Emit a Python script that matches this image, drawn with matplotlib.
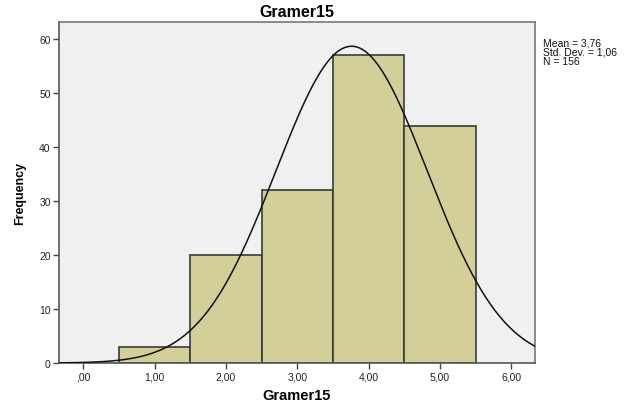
import numpy as np
import matplotlib.pyplot as plt

# Histogram of Gramer15 scores
bin_edges = [0.5, 1.5, 2.5, 3.5, 4.5, 5.5]
counts = [3, 20, 32, 57, 44]
mean, std, n = 3.76, 1.06, 156
xticks = [0, 1, 2, 3, 4, 5, 6]
xtick_labels = [',00', '1,00', '2,00', '3,00', '4,00', '5,00', '6,00']
yticks = [0, 10, 20, 30, 40, 50, 60]

plt.rcParams['font.family'] = ['Liberation Sans', 'DejaVu Sans']

fig = plt.figure(figsize=(6.34, 4.06), dpi=100)
ax = fig.add_axes([0.0931, 0.1034, 0.7507, 0.8399])
ax.set_facecolor('#f0f0f0')

# Bars
widths = np.diff(bin_edges)
ax.bar(bin_edges[:-1], counts, width=widths, align='edge',
       color='#d3cf98', edgecolor='#3a3a3a', linewidth=1.2, zorder=2)

# Normal curve scaled to the histogram
xs = np.linspace(-0.34, 6.33, 400)
bw = widths[0]
ys = n * bw / (std * np.sqrt(2 * np.pi)) * np.exp(-0.5 * ((xs - mean) / std) ** 2)
ax.plot(xs, ys, color='#111111', lw=1.1, zorder=3)

# Axes formatting
ax.set_xlim(-0.34, 6.33)
ax.set_ylim(0, 63.2)
ax.set_xticks(xticks)
ax.set_xticklabels(xtick_labels)
ax.set_yticks(yticks)
ax.tick_params(axis='both', direction='out', length=4, width=1,
               color='#444444', labelsize=7.5, labelcolor='#222222', pad=2)
for side in ['top', 'right', 'bottom', 'left']:
    ax.spines[side].set_color('#555555')
    ax.spines[side].set_linewidth(1.2)
ax.spines['top'].set_color('#777777')
ax.spines['right'].set_color('#777777')

ax.set_title('Gramer15', fontsize=11.5, fontweight='bold', pad=4)
ax.set_xlabel('Gramer15', fontsize=10.5, fontweight='bold', labelpad=5)
ax.set_ylabel('Frequency', fontsize=9, fontweight='bold', labelpad=9)

fig.text(0.856, 0.905, 'Mean = 3,76\nStd. Dev. = 1,06\nN = 156',
         fontsize=7.5, va='top', ha='left', linespacing=0.92, color='#111111')

plt.savefig('out.png', dpi=100)
